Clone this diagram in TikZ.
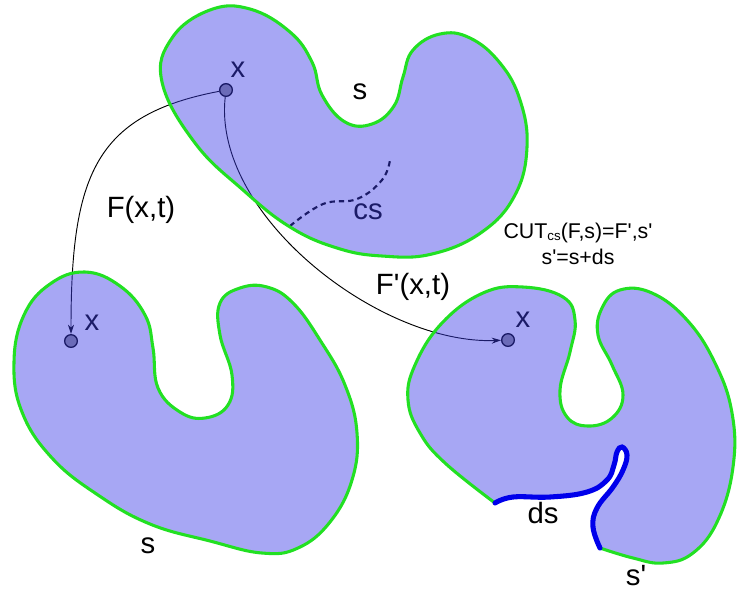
\documentclass[tikz,border=0pt]{standalone}
\usepackage{fontspec}
\setmainfont{Liberation Sans}
\usetikzlibrary{arrows.meta}
\definecolor{regionblue}{RGB}{60,60,230}
\definecolor{edgegreen}{RGB}{34,224,34}
\definecolor{cutblue}{RGB}{0,0,235}

\begin{document}
\begin{tikzpicture}[x=0.75pt,y=-0.75pt,
  lbl/.style={inner sep=0pt,font=\fontsize{22}{26}\selectfont},
  ptdot/.style={circle,draw=black,fill=gray!85,line width=1pt,
    minimum size=9.5pt,inner sep=0pt},
  flowarrow/.style={-{Stealth[length=7pt,width=4.5pt]},line width=0.7pt},
  regionfill/.style={fill=regionblue,fill opacity=0.45},
  regionedge/.style={draw=edgegreen,line width=2.3pt},
  cutedge/.style={draw=cutblue,line width=3.8pt,line cap=round}]
\useasboundingbox (0,0) rectangle (737,594);

\node[ptdot] (xtop) at (226,90) {};
\node[ptdot] (xleft) at (71,341) {};
\node[ptdot] (xright) at (508,340) {};
\node[lbl] (xtoplbl) at (238,70) {x};
\node[lbl] (xleftlbl) at (92,323) {x};
\node[lbl] (xrightlbl) at (523,320) {x};
\node[lbl] (cslbl) at (368,212) {cs};

\draw[flowarrow] (xtop) .. controls (95,115) and (71,175) .. (xleft);
\draw[flowarrow] (xtop) .. controls (212,215) and (380,345) .. (xright);
\node[lbl] (flbl) at (141,210) {F(x,t)};
\node[lbl] (fplbl) at (413,287) {F\textquotesingle(x,t)};

\draw[line width=1.6pt,dash pattern=on 4pt off 3pt]
  plot[smooth,tension=0.7] coordinates {(290,226) (323,204) (357,199) (382,180) (390,160)};

\filldraw[regionfill,regionedge] plot[smooth cycle,tension=0.7] coordinates {
  (162,82) (172,38) (210,10) (250,9) (290,32) (312,62) (322,95)
  (345,122) (372,124) (394,106) (403,77) (413,50) (440,34) (470,38)
  (500,63) (520,100) (527,147) (515,195) (482,232) (432,254) (382,256)
  (337,248) (290,227) (243,190) (195,143)};

\filldraw[regionfill,regionedge] plot[smooth cycle,tension=0.7] coordinates {
  (14,362) (24,315) (50,284) (85,272) (120,286) (145,315) (153,348)
  (158,388) (180,412) (205,418) (228,405) (232,375) (220,335) (220,303)
  (240,288) (267,287) (293,303) (320,340) (345,385) (357,433) (352,480)
  (330,522) (298,548) (262,553) (210,541) (150,524) (98,495) (52,458)
  (22,412)};

\fill[regionfill] plot[smooth,tension=0.7] coordinates {
  (600,548) (633,558) (663,563) (693,553) (718,520) (733,467) (732,413)
  (715,363) (687,320) (652,293) (620,290) (602,308) (598,335) (612,365)
  (623,395) (612,418) (588,426) (567,417) (560,390) (570,352) (575,320)
  (563,297) (523,287) (483,293) (442,323) (415,365) (408,400) (420,433)
  (445,463) (495,503)}
  -- plot[smooth,tension=0.7] coordinates {
  (495,503) (513,497) (550,497) (587,492) (607,480) (614,465) (617,452)
  (622,447) (627,455) (623,470) (613,487) (597,508) (593,527) (600,548)}
  -- cycle;
\draw[regionedge] plot[smooth,tension=0.7] coordinates {
  (600,548) (633,558) (663,563) (693,553) (718,520) (733,467) (732,413)
  (715,363) (687,320) (652,293) (620,290) (602,308) (598,335) (612,365)
  (623,395) (612,418) (588,426) (567,417) (560,390) (570,352) (575,320)
  (563,297) (523,287) (483,293) (442,323) (415,365) (408,400) (420,433)
  (445,463) (495,503)};
\draw[cutedge] plot[smooth,tension=0.7] coordinates {
  (495,503) (513,497) (550,497) (587,492) (607,480) (614,465) (617,452)
  (622,447) (627,455) (623,470) (613,487) (597,508) (593,527) (600,548)};

\node[lbl] (stoplbl) at (360,92) {s};
\node[lbl] (sleftlbl) at (148,546) {s};
\node[lbl] (dslbl) at (543,513) {ds};
\node[lbl] (sprimelbl) at (636,576) {s\textquotesingle};
\node[inner sep=0pt,font=\fontsize{16}{19}\selectfont,align=center] (cutlbl) at (578,244)
  {CUT\raisebox{-1.5pt}{\fontsize{10}{10}\selectfont cs}(F,s)=F\textquotesingle,s\textquotesingle\\[1pt]
   s\textquotesingle=s+ds};
\end{tikzpicture}
\end{document}
